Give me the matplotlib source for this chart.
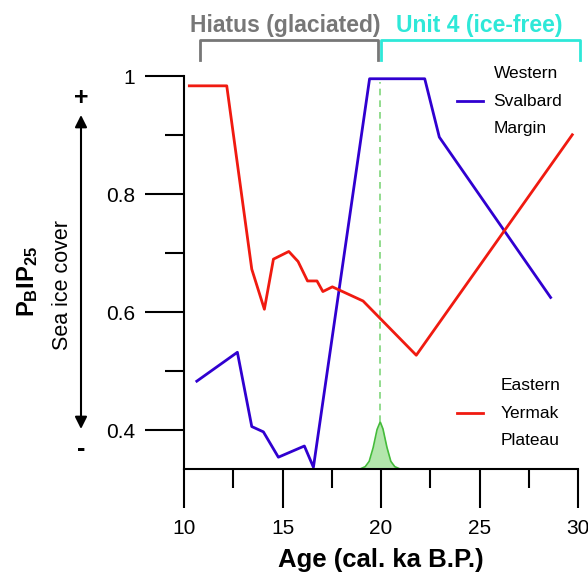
import matplotlib
matplotlib.use("Agg")
import matplotlib.pyplot as plt
from matplotlib.ticker import MultipleLocator

plt.rcParams["font.family"] = ["Liberation Sans", "DejaVu Sans"]
plt.rcParams["mathtext.fontset"] = "custom"
plt.rcParams["mathtext.rm"] = "Liberation Sans"
plt.rcParams["mathtext.bf"] = "Liberation Sans:bold"

# Eastern Yermak Plateau
yermak_age = [10.27, 12.17, 13.44, 14.08, 14.54, 15.32, 15.79, 16.27, 16.75,
              17.05, 17.53, 19.09, 21.79, 29.71]
yermak_pbip25 = [0.984, 0.984, 0.673, 0.605, 0.690, 0.703, 0.686, 0.653, 0.653,
                 0.635, 0.643, 0.619, 0.527, 0.901]

# Western Svalbard Margin
svalbard_age = [10.65, 12.71, 13.44, 14.03, 14.79, 16.11, 16.57, 19.42, 22.22,
                22.96, 28.61]
svalbard_pbip25 = [0.483, 0.532, 0.406, 0.397, 0.354, 0.373, 0.337, 0.996, 0.996,
                   0.897, 0.625]

# calibrated age probability
calib_age = [19.0, 19.2, 19.4, 19.6, 19.8, 19.96, 20.1, 20.3, 20.5, 20.7, 20.9]
calib_prob = [0.335, 0.338, 0.347, 0.370, 0.401, 0.414, 0.402, 0.371, 0.347, 0.338, 0.335]
calib_peak_age = 19.96

y_base = 0.334
y_ticks = [0.4, 0.6, 0.8, 1.0]
y_ticklabels = ["0.4", "0.6", "0.8", "1"]
x_ticks = [10, 15, 20, 25, 30]

RED = "#f01a10"
BLUE = "#3000d0"
GREY = "#777777"
CYAN = "#2ee8d8"

fig = plt.figure(figsize=(5.88, 5.72), dpi=100)
ax = fig.add_axes([184 / 588, 1 - 469 / 572, 394 / 588, 392.6 / 572])

ax.fill_between(calib_age, y_base, calib_prob, color="#b3e6ac", lw=0)
ax.plot(calib_age, calib_prob, color="#44bb3a", lw=1.2)
ax.plot([calib_peak_age, calib_peak_age], [max(calib_prob), 0.99], color="#7fd67a",
        lw=1.2, ls=(0, (4, 3)))

l_blue, = ax.plot(svalbard_age, svalbard_pbip25, color=BLUE, lw=2, clip_on=False)
l_red, = ax.plot(yermak_age, yermak_pbip25, color=RED, lw=2, clip_on=False)

ax.set_xlim(10, 30)
ax.set_ylim(y_base, 1.0)
for s in ["top", "right"]:
    ax.spines[s].set_visible(False)
for s in ["left", "bottom"]:
    ax.spines[s].set_linewidth(1.5)

ax.set_yticks(y_ticks)
ax.set_yticklabels(y_ticklabels)
ax.set_xticks(x_ticks)
ax.yaxis.set_minor_locator(MultipleLocator(0.1))
ax.xaxis.set_minor_locator(MultipleLocator(2.5))
ax.tick_params(which="major", length=28, width=1.5, labelsize=15)
ax.tick_params(axis="y", which="major", pad=7)
ax.tick_params(axis="x", which="major", pad=8)
ax.tick_params(which="minor", length=14, width=1.5)

ax.set_xlabel("Age (cal. ka B.P.)", fontsize=18.5, fontweight="bold", labelpad=7)

# y-axis annotation
fig.text(28 / 588, 1 - 281 / 572, r"$\mathbf{P_{B}IP_{25}}$", rotation=90,
         fontsize=17, ha="center", va="center")
fig.text(63 / 588, 1 - 285 / 572, "Sea ice cover", rotation=90,
         fontsize=15.5, ha="center", va="center")
ax.annotate("", xy=(81 / 588, 1 - 115 / 572), xytext=(81 / 588, 1 - 429 / 572),
            xycoords="figure fraction", textcoords="figure fraction",
            arrowprops=dict(arrowstyle="<|-|>", color="black", lw=1.5,
                            mutation_scale=18, shrinkA=0, shrinkB=0))
fig.text(81 / 588, 1 - 98 / 572, "+", fontsize=18, fontweight="bold",
         ha="center", va="center")
fig.text(81 / 588, 1 - 449 / 572, "-", fontsize=18, fontweight="bold",
         ha="center", va="center")

# brackets above plot
def bracket(x0, x1, color):
    ax.plot([x0, x0, x1, x1], [1.028, 1.061, 1.061, 1.028], color=color,
            lw=2, clip_on=False)

bracket(10.82, 19.86, GREY)
bracket(20.02, 30.08, CYAN)
ax.text(15.15, 1.087, "Hiatus (glaciated)", color=GREY, fontsize=16.5,
        fontweight="bold", ha="center", va="center")
ax.text(25.0, 1.087, "Unit 4 (ice-free)", color=CYAN, fontsize=16.5,
        fontweight="bold", ha="center", va="center")

# legends
leg1 = ax.legend([l_blue], ["Western\nSvalbard\nMargin"], loc="upper left",
                 bbox_to_anchor=(457 / 588, 1 - 66 / 572), bbox_transform=fig.transFigure,
                 frameon=False, fontsize=12.5, handlelength=1.5, handletextpad=0.6,
                 borderpad=0, borderaxespad=0)
leg1.get_texts()[0].set_linespacing(2.05)
ax.add_artist(leg1)
leg2 = ax.legend([l_red], ["Eastern\nYermak\nPlateau"], loc="upper left",
                 bbox_to_anchor=(457 / 588, 1 - 378 / 572), bbox_transform=fig.transFigure,
                 frameon=False, fontsize=12.5, handlelength=1.5, handletextpad=1.0,
                 borderpad=0, borderaxespad=0)
leg2.get_texts()[0].set_linespacing(2.05)

fig.savefig("out.png", dpi=100)
